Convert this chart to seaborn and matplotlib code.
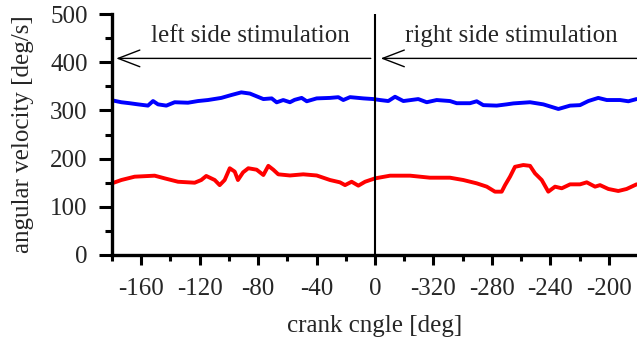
import matplotlib
matplotlib.use("Agg")
import matplotlib.pyplot as plt
import seaborn as sns
import numpy as np
import pandas as pd
from matplotlib.ticker import FixedLocator, FixedFormatter

# crank position measured from -180 deg (left side) through 0 to -180 (right side)
blue_pos = [0, 6.4, 12, 17.8, 24.6, 28.1, 31.5, 37.2, 42.9, 52, 58.9, 65.7, 74.8, 81.7,
            88.5, 94.4, 103.6, 109.3, 112.7, 117.2, 121.8, 125, 129.8, 133.3, 140.1, 149.2,
            154.9, 158.3, 162.9, 172, 178.8, 183.4, 189.1, 193.7, 199.4, 209.6, 215.4,
            222.2, 231.3, 235.9, 245, 249.6, 254.1, 263.3, 270.1, 274.7, 286.1, 295.2,
            305.5, 313.5, 320.3, 326, 332.8, 338.6, 347.7, 353.4, 359]
blue_val = [321, 317, 315, 312.6, 310, 319.5, 312.6, 310, 317, 316, 319.5, 321.6, 326, 332,
            337.5, 335, 323.6, 325, 316.8, 321.6, 317, 322, 326, 319, 325, 326,
            327.5, 321.6, 327.6, 325, 323.6, 321.6, 319.5, 328.4, 319.5, 323.6, 317,
            321.6, 319.5, 315, 315, 319, 311, 310, 312.6, 314.6, 317, 312.6,
            303, 310, 311, 319.5, 326, 321.6, 321.6, 319, 323.6]

red_pos = [0, 6.4, 15.5, 29.2, 36.1, 45.2, 56.6, 61.1, 64.5, 70.3, 73.7, 77.1, 80.6, 84,
           86.2, 89.7, 93.3, 99, 103.6, 107, 110.4, 113.8, 121.8, 130.9, 140.1, 149.2,
           156, 159.5, 164, 168.6, 173.2, 180, 190.3, 204, 217.6, 231.3, 240.4, 249.6,
           256.5, 262.1, 266.7, 269, 272.4, 275.8, 281.5, 286.1, 289.5, 294.1, 298.6,
           303.2, 307.8, 313.5, 320.3, 324.9, 330.6, 334, 339.7, 346.5, 352.2, 359]
red_val = [148.7, 155.6, 162.5, 164.6, 159, 152, 150, 155.6, 164, 155.6, 145, 155.6, 180, 173,
           155.6, 171.5, 180, 177, 166, 185, 177, 167.4, 165, 167.4, 165, 155.6,
           150.8, 145, 152, 143.9, 152, 159, 164.6, 164.6, 160.4, 160.4, 155.6, 148.7,
           141.8, 131.4, 131.4, 145, 162.5, 183, 186.7, 185, 169.4, 155.6, 131.4,
           141.8, 138.4, 146.6, 146.6, 150.8, 141.8, 145, 137, 132.8, 137, 146.6]

x_tick_pos = [20, 60, 100, 140, 180, 220, 260, 300, 340]
x_tick_labels = ["-160", "-120", "-80", "-40", "0", "-320", "-280", "-240", "-200"]
x_minor_pos = [0, 40, 80, 120, 160, 200, 240, 280, 320, 360]
y_ticks = [0, 100, 200, 300, 400, 500]
y_minor = [50, 150, 250, 350, 450]

sns.set_theme(style="white")
plt.rcParams['font.family'] = ['Liberation Serif', 'DejaVu Serif']

fig = plt.figure(figsize=(6.37, 3.43), dpi=100)
ax = fig.add_axes([0.1758, 0.2566, 0.8242, 0.7024])

df_b = pd.DataFrame({"pos": blue_pos, "val": blue_val})
df_r = pd.DataFrame({"pos": red_pos, "val": red_val})
sns.lineplot(data=df_b, x="pos", y="val", color="#0000ff", linewidth=2.8, ax=ax)
sns.lineplot(data=df_r, x="pos", y="val", color="#ff0000", linewidth=2.8, ax=ax)

ax.set_xlim(0, 359.3)
ax.set_ylim(0, 500)

ax.axvline(180, ymin=0, ymax=1, color="black", linewidth=1.5)

for s in ["top", "right"]:
    ax.spines[s].set_visible(False)
for s in ["left", "bottom"]:
    ax.spines[s].set_linewidth(2.4)
    ax.spines[s].set_color("black")

ax.xaxis.set_major_locator(FixedLocator(x_tick_pos))
ax.xaxis.set_major_formatter(FixedFormatter(x_tick_labels))
ax.xaxis.set_minor_locator(FixedLocator(x_minor_pos))
ax.yaxis.set_major_locator(FixedLocator(y_ticks))
ax.yaxis.set_minor_locator(FixedLocator(y_minor))

ax.tick_params(axis="x", which="major", direction="out", length=7.5, width=2.2,
               color="black", labelsize=18, pad=9, bottom=True)
ax.tick_params(axis="x", which="minor", direction="out", length=4, width=2.2,
               color="black", bottom=True)
ax.tick_params(axis="y", which="major", direction="out", length=9.5, width=2.2,
               color="black", labelsize=18, pad=8, left=True)
ax.tick_params(axis="y", which="minor", direction="out", length=5, width=2.2,
               color="black", left=True)

ax.set_xlabel("crank cngle [deg]", fontsize=18, labelpad=11)
ax.set_ylabel("angular velocity [deg/s]", fontsize=18, labelpad=12)

arrow_y = 408
ax.annotate("", xy=(1, arrow_y), xytext=(179, arrow_y),
            arrowprops=dict(arrowstyle="->,head_length=1.3,head_width=0.5",
                            color="black", linewidth=1.0), annotation_clip=False)
ax.annotate("", xy=(182, arrow_y), xytext=(362, arrow_y),
            arrowprops=dict(arrowstyle="->,head_length=1.3,head_width=0.5",
                            color="black", linewidth=1.0), annotation_clip=False)
ax.text(95, 455, "left side stimulation", fontsize=18, ha="center", va="center")
ax.text(273, 455, "right side stimulation", fontsize=18, ha="center", va="center")

fig.savefig("out.png", dpi=100)
